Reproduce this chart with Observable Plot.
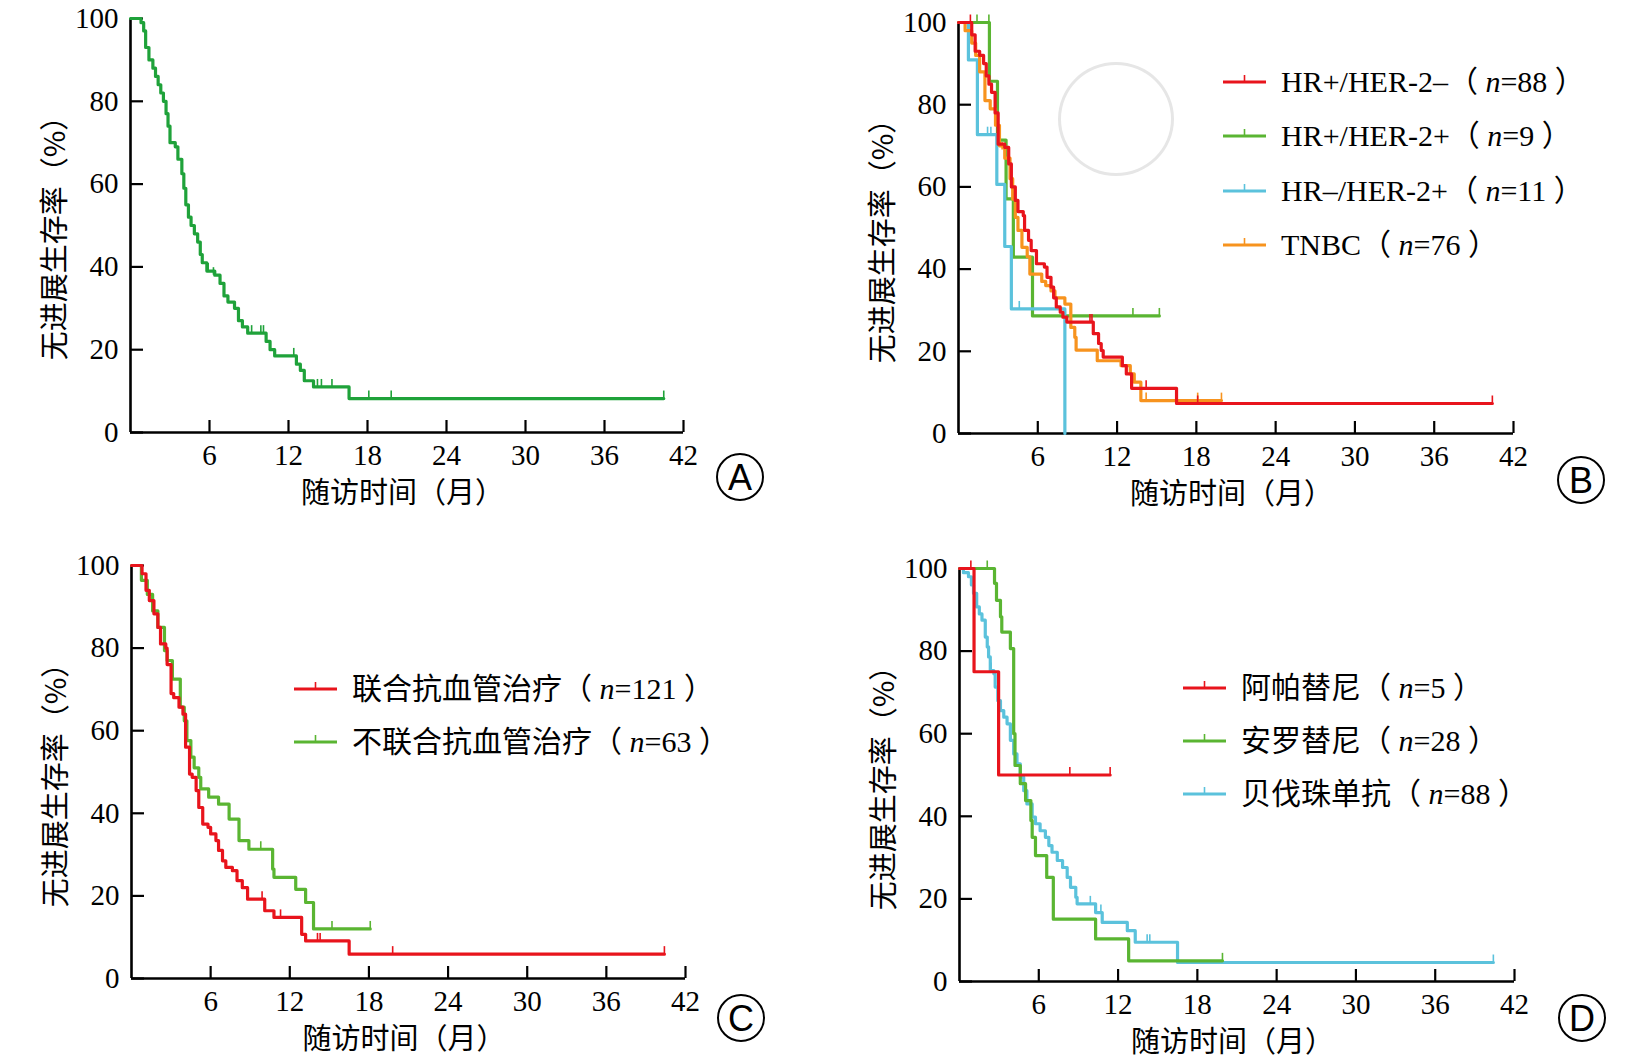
<!DOCTYPE html>
<html><head><meta charset="utf-8">
<script src="https://cdn.jsdelivr.net/npm/d3@7"></script>
<script src="https://cdn.jsdelivr.net/npm/@observablehq/plot@0.6"></script>
<style>
body{margin:0;background:#fff;}
#fig{position:relative;width:1643px;height:1061px;overflow:hidden;font-family:"Liberation Serif","Noto Sans CJK SC",serif;color:#000;background:#fff;}
#fig svg.plot{position:absolute;overflow:visible;}
.ytitle{position:absolute;transform:translate(-50%,-50%) rotate(-90deg);white-space:nowrap;font-size:29px;line-height:1;font-family:"Noto Sans CJK SC","Liberation Serif";}
.xtitle{position:absolute;transform:translate(-50%,-50%);white-space:nowrap;font-size:29px;line-height:1;font-family:"Noto Sans CJK SC","Liberation Serif";}
.circ{position:absolute;width:44px;height:44px;border:2px solid #000;border-radius:50%;transform:translate(-50%,-50%);font-family:"Liberation Sans",sans-serif;font-size:36px;line-height:45px;text-align:center;}
.leg{position:absolute;font-size:30px;white-space:nowrap;}
.leg .row{display:flex;align-items:center;}
.leg .row span.t{margin-left:14px;line-height:1;font-family:"Liberation Serif","Noto Sans CJK SC";}
.leg i{font-family:"Liberation Serif";}
.seal{position:absolute;border:3px solid #e6e6e6;border-radius:50%;}
</style></head>
<body><div id="fig"></div>
<script>
// ---------- shared ticks ----------
const xTicks = [6, 12, 18, 24, 30, 36, 42];
const yTicks = [0, 20, 40, 60, 80, 100];
const xTitle = "随访时间（月）";
const yTitle = "无进展生存率（%）";

// ---------- Panel A : all patients ----------
const aAll = [[0,100],[0.8,99],[1.0,97],[1.15,93],[1.4,90],[1.7,88],[1.9,86],[2.1,84],[2.3,82],[2.5,80],[2.7,77],[2.85,74],[3.0,70],[3.4,69],[3.6,66],[3.9,62.5],[4.05,59],[4.2,55],[4.4,52],[4.6,50],[4.85,48],[5.1,46],[5.3,43],[5.45,41],[5.8,39],[6.4,38],[6.8,36],[7.1,33],[7.4,31.5],[7.9,30],[8.2,27],[8.5,25.5],[8.9,24],[10.3,22],[10.6,20],[10.95,18.5],[12.6,16.5],[12.9,15],[13.2,12.5],[13.9,11],[16.6,8.2],[40.5,8.2]];
const aAllCens = [[5.9,39],[6.3,38],[9.2,24],[9.9,24],[10.1,24],[12.4,18.5],[14.2,11],[14.5,11],[15.3,11],[18.1,8.2],[19.8,8.2],[40.5,8.2]];

// ---------- Panel B : molecular subtypes ----------
const bHRposHER2neg = [[0,100],[1.0,97],[1.26,93],[1.6,92],[1.9,90],[2.1,87],[2.3,85],[2.5,83],[2.77,78],[3.0,70.4],[3.5,69.6],[3.8,65.6],[4.0,60],[4.3,56.7],[4.5,54],[4.9,53],[5.0,49.4],[5.3,47],[5.5,44.5],[5.9,41.3],[6.5,40.5],[6.7,38],[7.0,35.6],[7.2,33],[7.4,30.8],[7.7,29.5],[7.9,28.3],[8.2,27.1],[10.2,24.3],[10.6,21.9],[10.8,20.2],[10.95,18.6],[12.4,16.5],[12.7,14.5],[13.1,11],[16.5,7.3],[40.4,7.3]];
const bHRposHER2negCens = [[0.9,100],[9.95,27.1],[10.1,27.1],[14.2,11],[18.1,7.3],[40.4,7.3]];
const bHRposHER2pos = [[0,100],[2.34,85.7],[2.95,71.4],[3.6,57.1],[4.15,42.9],[5.6,28.6],[15.2,28.6]];
const bHRposHER2posCens = [[1.4,100],[2.3,100],[13.2,28.6],[15.2,28.6]];
const bHRnegHER2pos = [[0,100],[0.75,90.9],[1.43,72.7],[2.9,60.6],[3.5,45.5],[4.0,30.3],[8.05,0]];
const bHRnegHER2posCens = [[2.2,72.7],[2.45,72.7],[4.6,30.3]];
const bTNBC = [[0,100],[0.5,98],[1.0,95],[1.3,92],[1.6,88],[2.0,81],[2.4,79],[2.8,75],[3.1,70],[3.5,67],[3.9,62],[4.1,57],[4.3,52.6],[4.5,49.4],[4.8,45.3],[5.2,43],[5.4,38.8],[6.3,37],[6.6,36],[7.0,34.7],[7.3,33],[8.05,31.5],[8.5,25.8],[8.8,23.4],[8.9,20.3],[10.5,17.7],[12.3,16.5],[13.0,14.5],[13.3,12.5],[13.8,8],[19.9,8]];
const bTNBCCens = [[3.3,69],[14.2,8],[18.1,8],[19.9,8]];

// ---------- Panel C : anti-angiogenic combination ----------
const cCombined = [[0,100],[0.8,98],[1.1,94],[1.35,91.5],[1.7,88.3],[2.0,85],[2.2,81],[2.6,80],[2.7,76],[3.0,69],[3.2,68],[3.6,65.7],[3.9,64],[4.1,56],[4.4,49.5],[4.6,48.7],[4.9,45.5],[5.1,41.4],[5.4,37.4],[5.8,36.6],[6.0,35],[6.4,33.4],[6.6,31],[6.9,28.5],[7.15,26.9],[7.65,26.1],[8.0,23.7],[8.4,22],[8.8,19.2],[10.1,16.4],[10.8,14.8],[12.9,10.7],[13.2,9.1],[16.5,5.9],[40.4,5.9]];
const cCombinedCens = [[9.9,19.2],[11.3,14.8],[14.1,9.1],[14.3,9.1],[19.8,5.9],[40.4,5.9]];
const cNotCombined = [[0,100],[0.75,96.4],[1.2,93],[1.6,89],[2.0,85],[2.5,79.4],[2.7,77],[3.1,72.5],[3.7,65.7],[4.0,62.4],[4.2,57.6],[4.5,53.6],[4.75,51],[5.1,48.7],[5.25,45.9],[5.85,43.9],[6.6,42.2],[7.4,38.6],[8.15,33.4],[8.9,31.3],[10.7,26.5],[10.8,24.5],[12.45,21.6],[13.2,18.4],[13.8,12],[18.1,12]];
const cNotCombinedCens = [[9.8,31.3],[15.2,12],[18.1,12]];

// ---------- Panel D : anti-angiogenic drugs ----------
const dApatinib = [[0,100],[1.1,75],[2.96,50],[11.4,50]];
const dApatinibCens = [[0.86,100],[8.35,50],[11.4,50]];
const dAnlotinib = [[0,100],[2.65,96.4],[2.8,92.3],[3.1,88.3],[3.2,84.6],[3.85,80.6],[4.1,60],[4.2,52.3],[4.6,47.9],[5.0,43.8],[5.4,39],[5.5,34.9],[5.75,30.5],[6.6,25.2],[7.1,15.1],[10.3,10.3],[12.8,5.0],[19.9,5.0]];
const dAnlotinibCens = [[2.1,100],[19.9,5.0]];
const dBevacizumab = [[0,100],[0.3,99],[0.68,98],[0.9,96],[1.06,94],[1.3,90.7],[1.5,89],[1.7,87.5],[1.95,83.4],[2.1,81],[2.2,78.6],[2.33,75.3],[2.6,74.5],[2.7,71.3],[2.9,68],[3.1,65.6],[3.35,64],[3.6,62.4],[3.85,58.4],[4.1,55.1],[4.35,52.7],[4.6,49.5],[4.86,46.2],[5.1,43],[5.5,39.8],[5.75,38.2],[6.1,36.5],[6.5,34.9],[6.76,32.9],[7.0,31.3],[7.4,29.3],[7.8,27.6],[8.15,25.2],[8.4,22.8],[8.8,20.4],[8.9,18.8],[10.3,16.7],[10.8,14.3],[12.7,12.3],[13.3,9.5],[16.5,4.6],[40.4,4.6]];
const dBevacizumabCens = [[2.4,75.3],[9.9,18.8],[10.7,16.7],[14.2,9.5],[14.4,9.5],[40.4,4.6]];

// ---------- colours ----------
const RED = "#e8141c", GREEN_A = "#1fa23a", GREEN = "#5ab532", BLUE = "#5bc2dc", ORANGE = "#f7931e";

// ---------- panel descriptions (layout) ----------
const panels = [
  { letter: "A", x0: 130, x42: 683, yTop: 18, yBot: 432,
    series: [{data: aAll, cens: aAllCens, color: GREEN_A}],
    legend: null, circ: [740, 477] },
  { letter: "B", x0: 958, x42: 1513, yTop: 22, yBot: 433,
    series: [
      {data: bHRposHER2pos, cens: bHRposHER2posCens, color: GREEN},
      {data: bHRnegHER2pos, cens: bHRnegHER2posCens, color: BLUE},
      {data: bTNBC, cens: bTNBCCens, color: ORANGE},
      {data: bHRposHER2neg, cens: bHRposHER2negCens, color: RED}],
    legend: {x: 1223, y: 82, gap: 54.3, items: [
      {color: RED, label: "HR+/HER-2–", n: 88},
      {color: GREEN, label: "HR+/HER-2+", n: 9},
      {color: BLUE, label: "HR–/HER-2+", n: 11},
      {color: ORANGE, label: "TNBC", n: 76}]},
    circ: [1581, 480] },
  { letter: "C", x0: 131, x42: 685, yTop: 565, yBot: 978,
    series: [
      {data: cNotCombined, cens: cNotCombinedCens, color: GREEN},
      {data: cCombined, cens: cCombinedCens, color: RED}],
    legend: {x: 294, y: 689, gap: 53, items: [
      {color: RED, label: "联合抗血管治疗", n: 121},
      {color: GREEN, label: "不联合抗血管治疗", n: 63}]},
    circ: [741, 1018] },
  { letter: "D", x0: 959, x42: 1514, yTop: 568, yBot: 981,
    series: [
      {data: dBevacizumab, cens: dBevacizumabCens, color: BLUE},
      {data: dAnlotinib, cens: dAnlotinibCens, color: GREEN},
      {data: dApatinib, cens: dApatinibCens, color: RED}],
    legend: {x: 1183, y: 688, gap: 53, items: [
      {color: RED, label: "阿帕替尼", n: 5},
      {color: GREEN, label: "安罗替尼", n: 28},
      {color: BLUE, label: "贝伐珠单抗", n: 88}]},
    circ: [1582, 1018] }
];

const fig = document.getElementById("fig");

// faint seal watermark behind panel B
const seal = document.createElement("div");
seal.className = "seal";
Object.assign(seal.style, {left: "1058px", top: "62px", width: "110px", height: "108px"});
fig.appendChild(seal);

for (const p of panels) {
  const mL = 130, mT = 20, mR = 60, mB = 70;
  const pw = p.x42 - p.x0, ph = p.yBot - p.yTop;
  const unitY = 100 / ph;           // data units per pixel (y)
  const unitX = 42 / pw;            // data units per pixel (x)
  const marks = [];
  // inward ticks
  marks.push(Plot.ruleX(xTicks, {x: d => d, y1: 0, y2: 12 * unitY, stroke: "#000", strokeWidth: 2.2}));
  marks.push(Plot.ruleY(yTicks, {y: d => d, x1: 0, x2: 13 * unitX, stroke: "#000", strokeWidth: 2.2}));
  // axis lines
  marks.push(Plot.ruleY([0], {x1: 0, x2: 42, stroke: "#000", strokeWidth: 2.6}));
  marks.push(Plot.ruleX([0], {y1: 0, y2: 100, stroke: "#000", strokeWidth: 2.6}));
  // tick labels
  marks.push(Plot.axisX(xTicks, {tickSize: 0, tickPadding: 12, fontSize: 29, label: null}));
  marks.push(Plot.axisY(yTicks, {tickSize: 0, tickPadding: 12, fontSize: 29, label: null}));
  // survival curves + censor marks
  for (const s of p.series) {
    marks.push(Plot.line(s.data, {x: d => d[0], y: d => d[1], curve: "step-after", stroke: s.color, strokeWidth: 3.2}));
    marks.push(Plot.ruleX(s.cens, {x: d => d[0], y1: d => d[1], y2: d => d[1] + 7.5 * unitY, stroke: s.color, strokeWidth: 1.6}));
  }
  const chart = Plot.plot({
    width: mL + pw + mR, height: mT + ph + mB,
    marginLeft: mL, marginRight: mR, marginTop: mT, marginBottom: mB,
    x: {domain: [0, 42], axis: null},
    y: {domain: [0, 100], axis: null},
    style: {fontFamily: "Liberation Serif", color: "#000", background: "transparent", overflow: "visible"},
    marks
  });
  chart.classList.add("plot");
  chart.style.left = (p.x0 - mL) + "px";
  chart.style.top = (p.yTop - mT) + "px";
  fig.appendChild(chart);

  // axis titles
  const xt = document.createElement("div");
  xt.className = "xtitle"; xt.textContent = xTitle;
  xt.style.left = ((p.x0 + p.x42) / 2 - 4) + "px";
  xt.style.top = (p.yBot + 58) + "px";
  fig.appendChild(xt);
  const yt = document.createElement("div");
  yt.className = "ytitle"; yt.textContent = yTitle;
  yt.style.left = (p.x0 - 78) + "px";
  yt.style.top = ((p.yTop + p.yBot) / 2 + 6) + "px";
  fig.appendChild(yt);

  // circled letter
  const c = document.createElement("div");
  c.className = "circ"; c.textContent = p.letter;
  c.style.left = p.circ[0] + "px"; c.style.top = p.circ[1] + "px";
  fig.appendChild(c);

  // legend
  if (p.legend) {
    const L = document.createElement("div");
    L.className = "leg";
    L.style.left = p.legend.x + "px";
    L.style.top = (p.legend.y - p.legend.gap / 2) + "px";
    for (const it of p.legend.items) {
      const row = document.createElement("div");
      row.className = "row";
      row.style.height = p.legend.gap + "px";
      row.innerHTML = `<svg width="44" height="20" style="overflow:visible"><line x1="0" y1="10" x2="43" y2="10" stroke="${it.color}" stroke-width="3.2"/><line x1="21.5" y1="10" x2="21.5" y2="3" stroke="${it.color}" stroke-width="1.6"/></svg>` +
        `<span class="t">${it.label}（ <i>n</i>=${it.n} ）</span>`;
      L.appendChild(row);
    }
    fig.appendChild(L);
  }
}
</script></body></html>
